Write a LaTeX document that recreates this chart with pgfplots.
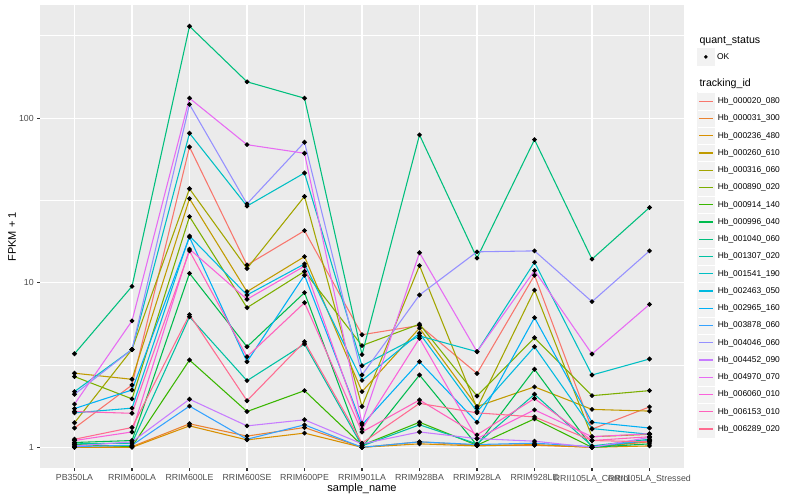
\documentclass[border=0pt]{standalone}
\usepackage{fontspec}
\setmainfont{Liberation Sans}
\usepackage{pgfplots}
\usepackage{pgfplotstable}
\pgfplotsset{compat=1.18}

% ggplot hue palette, 20 levels
\definecolor{c1}{HTML}{F8766D}
\definecolor{c2}{HTML}{EA8331}
\definecolor{c3}{HTML}{D89000}
\definecolor{c4}{HTML}{C09B00}
\definecolor{c5}{HTML}{A3A500}
\definecolor{c6}{HTML}{7CAE00}
\definecolor{c7}{HTML}{39B600}
\definecolor{c8}{HTML}{00BB4E}
\definecolor{c9}{HTML}{00BF7D}
\definecolor{c10}{HTML}{00C1A3}
\definecolor{c11}{HTML}{00BFC4}
\definecolor{c12}{HTML}{00BAE0}
\definecolor{c13}{HTML}{00B0F6}
\definecolor{c14}{HTML}{35A2FF}
\definecolor{c15}{HTML}{9590FF}
\definecolor{c16}{HTML}{C77CFF}
\definecolor{c17}{HTML}{E76BF3}
\definecolor{c18}{HTML}{FA62DB}
\definecolor{c19}{HTML}{FF62BC}
\definecolor{c20}{HTML}{FF6C91}
\definecolor{panel}{HTML}{EBEBEB}
\definecolor{keybg}{HTML}{F2F2F2}
\definecolor{grey30}{HTML}{4D4D4D}
\definecolor{grey20}{HTML}{333333}

% FPKM + 1, one row per sample (x = 0..10), one column per tracking_id
\pgfplotstableread{
x  s1   s2   s3   s4   s5   s6   s7   s8   s9   s10  s11  s12  s13  s14  s15  s16  s17   s18  s19  s20
0  1.31 1.00 1.00 2.82 1.41 2.69 1.04 1.07 3.70 1.05 2.18 1.62 1.72 1.01 2.10 1.02 1.83  1.10 1.65 1.12
1  2.39 1.01 1.00 2.59 3.93 1.97 1.01 1.10 9.50 1.06 3.93 1.73 2.23 1.03 3.93 1.08 5.86  1.24 1.61 1.32
2  66.7 1.39 1.35 32.4 37.2 25.2 3.39 11.4 361  6.21 80.9 19.2 18.9 1.78 121  1.96 132   16.0 15.6 6.40
3  12.8 1.17 1.11 8.82 12.2 7.05 1.65 4.08 166  2.54 29.2 8.42 3.31 1.12 30.1 1.35 68.9  7.93 3.55 1.92
4  20.7 1.32 1.22 14.4 33.4 11.7 2.21 8.70 132  4.24 46.4 13.0 11.1 1.37 71.3 1.47 61.1  12.6 7.56 4.38
5  4.83 1.00 1.00 2.18 1.77 4.15 1.03 1.00 3.66 1.02 3.13 2.55 1.37 1.00 2.75 1.05 1.40  1.29 1.24 1.06
6  5.50 1.08 1.05 5.30 12.7 5.60 1.42 2.75 79.0 1.37 4.75 4.93 3.31 1.08 8.42 1.24 15.2  4.60 1.94 1.85
7  2.81 1.03 1.02 1.77 1.73 2.05 1.03 1.03 14.1 1.05 3.81 1.65 1.42 1.04 15.4 1.13 3.81  1.13 1.19 1.62
8  11.1 1.03 1.04 2.33 9.02 4.63 1.49 2.98 74.0 2.10 13.3 4.08 6.13 1.06 15.6 1.09 11.85 1.69 1.98 1.53
9  1.29 1.00 1.00 1.70 1.16 2.06 1.00 1.00 13.9 1.02 2.75 1.30 1.42 1.01 7.67 1.00 3.69  1.16 1.10 1.10
10 1.76 1.08 1.02 1.66 1.20 2.21 1.10 1.05 28.6 1.12 3.44 1.20 1.31 1.10 15.6 1.15 7.38  1.21 1.16 1.08
}\fpkm

\pgfplotsset{
  keylegend/.style={
    legend style={draw=none, fill=white, inner sep=0pt, outer sep=0pt,
      row sep=-1.1bp, column sep=2.4bp, nodes={inner sep=0pt, text=black},
      font=\fontsize{8.4bp}{9bp}\selectfont},
    legend cell align=left,
  },
}

\begin{document}
\begin{tikzpicture}
\useasboundingbox (0,0) rectangle (800bp,500bp);

\begin{axis}[
  at={(40bp,31.6bp)}, anchor=south west,
  width=644bp, height=463.2bp, scale only axis,
  ymode=log,
  xmin=-0.6, xmax=10.6, ymin=0.745, ymax=484.6,
  axis background/.style={fill=panel},
  axis line style={draw=none},
  xtick={0,...,10},
  xticklabels={PB350LA,RRIM600LA,RRIM600LE,RRIM600SE,RRIM600PE,RRIM901LA,RRIM928BA,RRIM928LA,RRIM928LE,RRII105LA\_Control,RRII105LA\_Stressed},
  ytick={1,10,100}, yticklabels={1,10,100},
  minor ytick={3.1623,31.623,316.23},
  grid=both,
  major grid style={white, line width=1.07bp},
  minor grid style={white, line width=0.53bp},
  tick align=outside, tick pos=left,
  major tick length=2.75bp, minor tick length=0pt,
  every tick/.style={grey20, line width=1.07bp},
  /pgf/number format/assume math mode=true,
  tick label style={font=\fontsize{8.8bp}{10bp}\selectfont, text=grey30},
  xlabel={sample\_name}, ylabel={FPKM + 1},
  label style={font=\fontsize{11bp}{13bp}\selectfont},
  xlabel style={at={(axis description cs:0.5,-0.0435)}, anchor=center},
  ylabel style={at={(axis description cs:-0.0435,0.5)}, anchor=center},
  keylegend,
  legend style={at={(axis description cs:1.0202,0.8125)}, anchor=north west},
  legend image code/.code={
    \fill[keybg] (0bp,-8.64bp) rectangle (17.28bp,8.64bp);
    \draw[white, line width=0.6bp] (0bp,8.64bp) -- (17.28bp,8.64bp);
    \draw[#1] (1.7bp,0bp) -- (15.6bp,0bp);
  },
  every axis plot/.append style={line width=1.07bp, no markers},
]
\addplot[c1]  table[x=x,y=s1]{\fpkm};  \addlegendentry{Hb\_000020\_080}
\addplot[c2]  table[x=x,y=s2]{\fpkm};  \addlegendentry{Hb\_000031\_300}
\addplot[c3]  table[x=x,y=s3]{\fpkm};  \addlegendentry{Hb\_000236\_480}
\addplot[c4]  table[x=x,y=s4]{\fpkm};  \addlegendentry{Hb\_000260\_610}
\addplot[c5]  table[x=x,y=s5]{\fpkm};  \addlegendentry{Hb\_000316\_060}
\addplot[c6]  table[x=x,y=s6]{\fpkm};  \addlegendentry{Hb\_000890\_020}
\addplot[c7]  table[x=x,y=s7]{\fpkm};  \addlegendentry{Hb\_000914\_140}
\addplot[c8]  table[x=x,y=s8]{\fpkm};  \addlegendentry{Hb\_000996\_040}
\addplot[c9]  table[x=x,y=s9]{\fpkm};  \addlegendentry{Hb\_001040\_060}
\addplot[c10] table[x=x,y=s10]{\fpkm}; \addlegendentry{Hb\_001307\_020}
\addplot[c11] table[x=x,y=s11]{\fpkm}; \addlegendentry{Hb\_001541\_190}
\addplot[c12] table[x=x,y=s12]{\fpkm}; \addlegendentry{Hb\_002463\_050}
\addplot[c13] table[x=x,y=s13]{\fpkm}; \addlegendentry{Hb\_002965\_160}
\addplot[c14] table[x=x,y=s14]{\fpkm}; \addlegendentry{Hb\_003878\_060}
\addplot[c15] table[x=x,y=s15]{\fpkm}; \addlegendentry{Hb\_004046\_060}
\addplot[c16] table[x=x,y=s16]{\fpkm}; \addlegendentry{Hb\_004452\_090}
\addplot[c17] table[x=x,y=s17]{\fpkm}; \addlegendentry{Hb\_004970\_070}
\addplot[c18] table[x=x,y=s18]{\fpkm}; \addlegendentry{Hb\_006060\_010}
\addplot[c19] table[x=x,y=s19]{\fpkm}; \addlegendentry{Hb\_006153\_010}
\addplot[c20] table[x=x,y=s20]{\fpkm}; \addlegendentry{Hb\_006289\_020}
% points on top of all lines
\pgfplotsinvokeforeach{1,...,20}{
  \addplot[only marks, mark=*, mark size=1.8bp, black, forget plot] table[x=x,y=s#1]{\fpkm};
}
\end{axis}

% second, empty axis only for the quant_status key
\begin{axis}[
  at={(40bp,31.6bp)}, anchor=south west,
  width=644bp, height=463.2bp, scale only axis,
  hide axis, xmin=0, xmax=1, ymin=0, ymax=1,
  keylegend,
  legend style={at={(axis description cs:1.0202,0.9075)}, anchor=north west},
  legend image code/.code={
    \fill[keybg] (0bp,-8.64bp) rectangle (17.28bp,8.64bp);
    \draw[#1] plot coordinates {(8.64bp,0bp)};
  },
]
\addlegendimage{only marks, mark=*, mark size=1.6bp, black}
\addlegendentry{OK}
\end{axis}

\node[anchor=west, font=\fontsize{10.6bp}{12bp}\selectfont] at (696bp,459.3bp) {quant\_status};
\node[anchor=west, font=\fontsize{10.6bp}{12bp}\selectfont] at (696bp,416bp) {tracking\_id};
\end{tikzpicture}
\end{document}
